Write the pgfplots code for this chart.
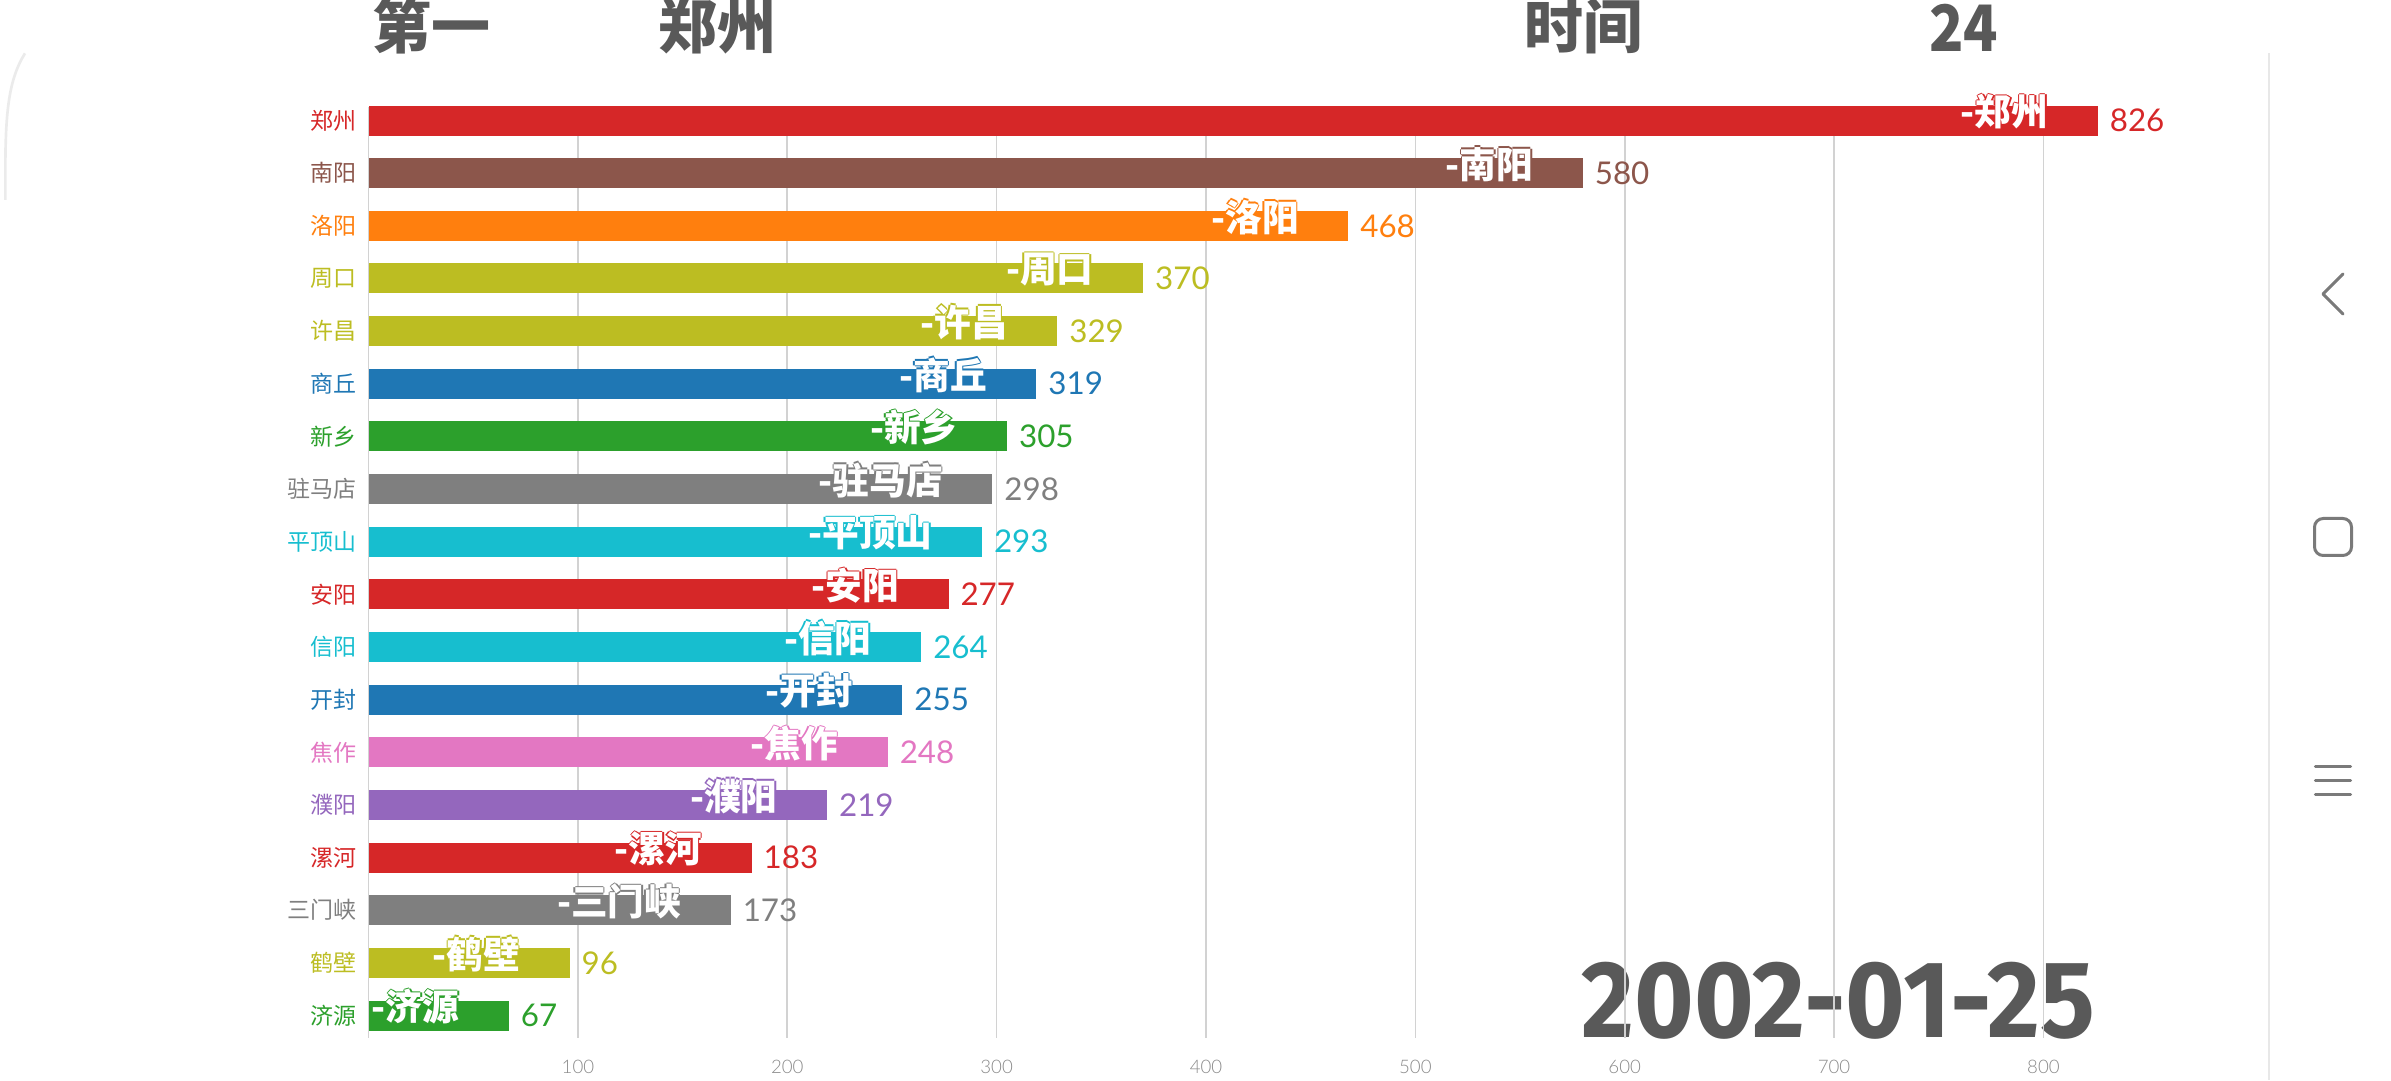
\documentclass[border=0pt]{standalone}
\usepackage{pgfplots}
\pgfplotsset{compat=1.18}
\usepackage{fontspec}
\setmainfont{Noto Sans CJK SC}
\newfontfamily\datefont{Fira Sans}
\newfontfamily\numfont{Lato}
\newfontfamily\tickfont{Lato Light}
\definecolor{cRed}{HTML}{D62728}
\definecolor{cBrown}{HTML}{8C564B}
\definecolor{cOrange}{HTML}{FF7F0E}
\definecolor{cOlive}{HTML}{BCBD22}
\definecolor{cBlue}{HTML}{1F77B4}
\definecolor{cGreen}{HTML}{2CA02C}
\definecolor{cGray}{HTML}{7F7F7F}
\definecolor{cCyan}{HTML}{17BECF}
\definecolor{cPink}{HTML}{E377C2}
\definecolor{cPurple}{HTML}{9467BD}
\definecolor{titlegray}{HTML}{595959}
\definecolor{gridgray}{HTML}{D2D2D2}
\definecolor{tickgray}{HTML}{8A8A8A}
\definecolor{navgray}{HTML}{7A7A7A}
\newcommand\outl[2]{\leavevmode\rlap{\kern-.45pt\textcolor{#1}{#2}}\rlap{\kern.45pt\textcolor{#1}{#2}}\rlap{\raisebox{.45pt}{\textcolor{#1}{#2}}}\rlap{\raisebox{-.45pt}{\textcolor{#1}{#2}}}\textcolor{white}{#2}}
\newcommand\citybar[4]{%
  \addplot[xbar, bar shift=0pt, bar width=9pt, fill=#4, draw=none,
    nodes near coords, point meta=x,
    nodes near coords style={anchor=west, inner sep=0pt, xshift=3.4pt, text=#4, font=\numfont\fontsize{9.4}{11}\selectfont}]
    coordinates {(#2,#1)};
  \node[anchor=east, inner sep=0pt, xshift=-14.7pt, yshift=2.6pt, font=\fontsize{11}{13}\selectfont\bfseries]
    at (axis cs:#2,#1) {\outl{#4}{-#3}};
}
\begin{document}
\begin{tikzpicture}[x=1pt,y=1pt]
\path[use as bounding box] (0,0) rectangle (717.3,324);
% phone frame decorations
\draw[color=black!9, line width=0.6pt] (680.7,0) -- (680.7,308.1);
\draw[color=black!8, line width=0.8pt] (7.5,308) .. controls (2.5,300) and (1.6,290) .. (1.6,272) -- (1.6,264);
\draw[navgray, line width=0.9pt, line cap=round, line join=round] (702.9,241.8) -- (696.9,235.8) -- (702.9,229.8);
\draw[navgray, line width=0.9pt, rounded corners=2.6pt] (694.35,157.35) rectangle (705.45,168.45);
\draw[navgray, line width=0.9pt, line cap=round] (694.6,93.9) -- (705.2,93.9) (694.6,89.7) -- (705.2,89.7) (694.6,85.5) -- (705.2,85.5);
% titles
\node[text=titlegray, font=\fontsize{17.7}{20}\selectfont\bfseries, inner sep=0pt] at (129.3,316.2) {第一};
\node[text=titlegray, font=\fontsize{17.7}{20}\selectfont\bfseries, inner sep=0pt] at (215.1,316.2) {郑州};
\node[text=titlegray, font=\fontsize{17.7}{20}\selectfont\bfseries, inner sep=0pt] at (474.9,316.2) {时间};
\node[text=titlegray, inner sep=0pt] at (589.05,315.6) {\resizebox{20.7pt}{14.2pt}{\bfseries 24}};
% date (drawn before the axis so that grid lines cross it)
\node[anchor=south west, inner sep=0pt, text=titlegray] at (474.3,12.0) {\resizebox{153.9pt}{22.6pt}{\datefont\bfseries 2002-01-25}};
\begin{axis}[
  at={(110.58pt,12.6pt)}, anchor=south west,
  width=565.26pt, height=279.3pt, scale only axis,
  xmin=0, xmax=900, ymin=-0.2564, ymax=17.427, y dir=reverse,
  axis line style={draw=none},
  major tick length=0pt,
  xmajorgrids, grid style={line width=0.5pt, color=gridgray},
  xtick={0,100,200,300,400,500,600,700,800},
  xticklabels={,100,200,300,400,500,600,700,800},
  xticklabel style={anchor=center, inner sep=0pt, yshift=-8.7pt, font=\tickfont\fontsize{5.6}{7}\selectfont, text=tickgray},
  ytick={0,1,2,3,4,5,6,7,8,9,10,11,12,13,14,15,16,17},
  yticklabels={\textcolor{cRed}{郑州},\textcolor{cBrown}{南阳},\textcolor{cOrange}{洛阳},\textcolor{cOlive}{周口},\textcolor{cOlive}{许昌},\textcolor{cBlue}{商丘},\textcolor{cGreen}{新乡},\textcolor{cGray}{驻马店},\textcolor{cCyan}{平顶山},\textcolor{cRed}{安阳},\textcolor{cCyan}{信阳},\textcolor{cBlue}{开封},\textcolor{cPink}{焦作},\textcolor{cPurple}{濮阳},\textcolor{cRed}{漯河},\textcolor{cGray}{三门峡},\textcolor{cOlive}{鹤壁},\textcolor{cGreen}{济源}},
  yticklabel style={anchor=east, inner sep=0pt, xshift=-3.5pt, font=\fontsize{6.9}{8}\selectfont},
  /pgf/number format/assume math mode=true,
  clip=false,
]
\citybar{0}{826}{郑州}{cRed}
\citybar{1}{580}{南阳}{cBrown}
\citybar{2}{468}{洛阳}{cOrange}
\citybar{3}{370}{周口}{cOlive}
\citybar{4}{329}{许昌}{cOlive}
\citybar{5}{319}{商丘}{cBlue}
\citybar{6}{305}{新乡}{cGreen}
\citybar{7}{298}{驻马店}{cGray}
\citybar{8}{293}{平顶山}{cCyan}
\citybar{9}{277}{安阳}{cRed}
\citybar{10}{264}{信阳}{cCyan}
\citybar{11}{255}{开封}{cBlue}
\citybar{12}{248}{焦作}{cPink}
\citybar{13}{219}{濮阳}{cPurple}
\citybar{14}{183}{漯河}{cRed}
\citybar{15}{173}{三门峡}{cGray}
\citybar{16}{96}{鹤壁}{cOlive}
\citybar{17}{67}{济源}{cGreen}
\end{axis}
\end{tikzpicture}
\end{document}
